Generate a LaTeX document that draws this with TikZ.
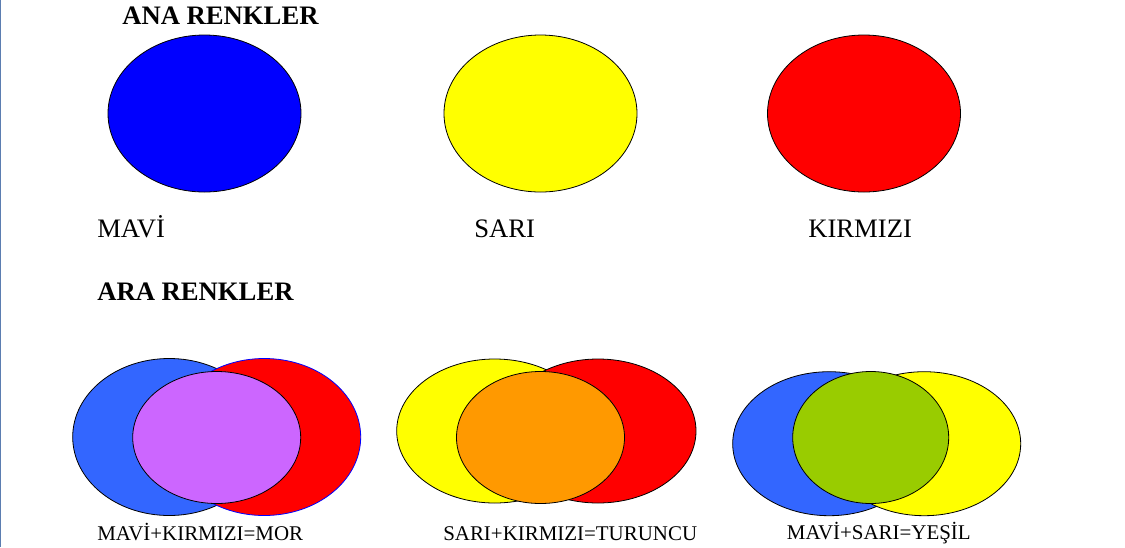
\documentclass[tikz,border=0pt]{standalone}
\usepackage{fontspec}
\setmainfont{Liberation Serif}
\usetikzlibrary{shapes.geometric}
\definecolor{mavi}{HTML}{0000FF}
\definecolor{sari}{HTML}{FFFF00}
\definecolor{kirmizi}{HTML}{FF0000}
\definecolor{acikmavi}{HTML}{3366FF}
\definecolor{mor}{HTML}{CC66FF}
\definecolor{turuncu}{HTML}{FF9900}
\definecolor{yesil}{HTML}{99CC00}
\definecolor{kenar}{HTML}{5B7DB1}
\tikzset{
  disc/.style      = { ellipse, inner sep=0pt, draw=black, line width=0.6pt },
  primary/.style   = { disc, minimum width=144.75pt, minimum height=117.75pt },
  mixed/.style     = { disc, minimum width=126pt, minimum height=99pt },
  heading/.style   = { anchor=base west, inner sep=0pt, font=\fontsize{20}{24}\selectfont\bfseries },
  colname/.style   = { anchor=base west, inner sep=0pt, font=\fontsize{20}{24}\selectfont },
  mixname/.style   = { anchor=base west, inner sep=0pt, font=\fontsize{15.7}{19}\selectfont },
}
\begin{document}
\begin{tikzpicture}[x=0.75pt, y=-0.75pt]
  \useasboundingbox (0,0) rectangle (1125,547);
  \draw [kenar, line width=1.1pt] (0.7,0) -- (0.7,547);

  % ana renkler
  \node (ana)     [heading] at (122,24.5) {ANA RENKLER};
  \node (mavi)    [primary, fill=mavi]    at (204.5,113.5) {};
  \node (sari)    [primary, fill=sari]    at (540.5,113.5) {};
  \node (kirmizi) [primary, fill=kirmizi] at (864,113.5)   {};
  \node (tmavi)    [colname] at (97,237)  {MAVİ};
  \node (tsari)    [colname] at (474,237) {SARI};
  \node (tkirmizi) [colname] at (808,237) {KIRMIZI};

  % ara renkler
  \node (ara) [heading] at (97,300.5) {ARA RENKLER};

  \node (mavi1)    [primary, fill=acikmavi] at (169.2,437) {};
  \node (kirmizi1) [primary, fill=kirmizi, draw=mavi] at (264.2,437) {};
  \node (mor)      [mixed, fill=mor] at (216.7,437.5) {};

  \node (sari2)    [disc, fill=sari, minimum width=147pt, minimum height=108pt]    at (494.7,431) {};
  \node (kirmizi2) [disc, fill=kirmizi, minimum width=147pt, minimum height=108pt] at (598,431)   {};
  \node (turuncu)  [mixed, fill=turuncu] at (540.5,437.5) {};

  \node (mavi3)  [disc, fill=acikmavi, minimum width=144.75pt, minimum height=108pt] at (829.2,443.7) {};
  \node (sari3)  [disc, fill=sari, minimum width=144.75pt, minimum height=108pt]     at (924.2,443.7) {};
  \node (yesil)  [mixed, fill=yesil, minimum width=117pt] at (870.7,437.5) {};

  \node (tmor)     [mixname] at (97,540)    {MAVİ+KIRMIZI=MOR};
  \node (tturuncu) [mixname] at (443,540)   {SARI+KIRMIZI=TURUNCU};
  \node (tyesil)   [mixname] at (786.7,539) {MAVİ+SARI=YEŞİL};
\end{tikzpicture}
\end{document}
